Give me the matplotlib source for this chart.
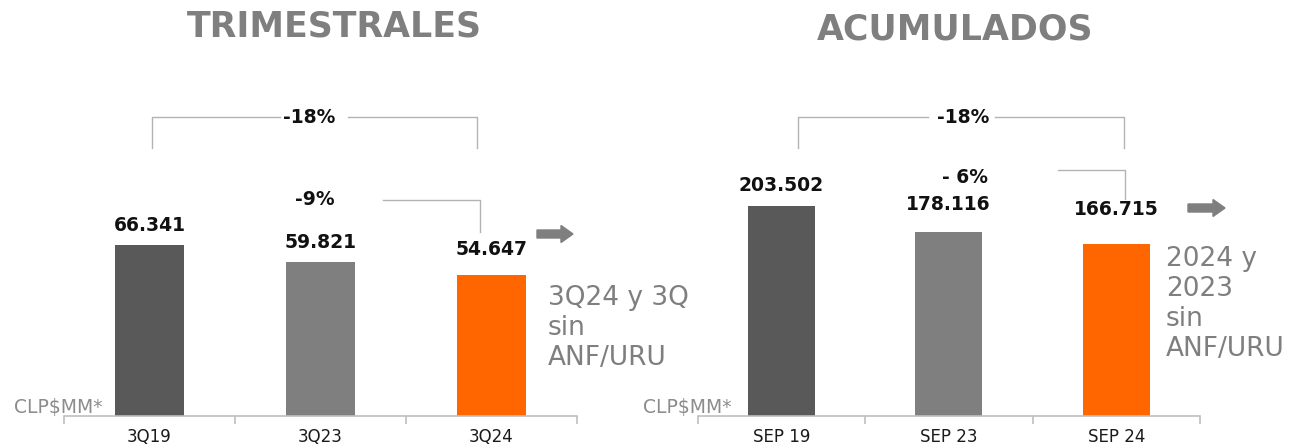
import matplotlib
matplotlib.use("Agg")
import matplotlib.pyplot as plt
import matplotlib.patches as mpatches
from matplotlib.transforms import Bbox, TransformedBbox, blended_transform_factory

# data
q_labels = ["3Q19", "3Q23", "3Q24"]
q_values = [66.341, 59.821, 54.647]
q_text = ["66.341", "59.821", "54.647"]

a_labels = ["SEP 19", "SEP 23", "SEP 24"]
a_values = [203.502, 178.116, 166.715]
a_text = ["203.502", "178.116", "166.715"]

colors = ["#595959", "#7f7f7f", "#ff6600"]
GRAY_LINE = "#b3b3b3"

fig = plt.figure(figsize=(12.92, 4.46), dpi=100)
px = fig.dpi_scale_trans  # 1 unit = 100 px


def P(x, y):
    # pixel (from top-left) -> inches for dpi_scale_trans
    return x / 100.0, (446 - y) / 100.0


def panel(rect, labels, values, texts, ymax, offsets):
    ax = fig.add_axes(rect)
    xs = range(len(values))
    ax.bar(xs, values, width=0.4, color=colors)
    ax.set_xlim(-0.5, 2.5)
    ax.set_ylim(0, ymax)
    for s in ["top", "right", "left"]:
        ax.spines[s].set_visible(False)
    ax.spines["bottom"].set_color("#bfbfbf")
    ax.spines["bottom"].set_linewidth(1.2)
    ax.set_yticks([])
    ax.set_xticks(list(xs))
    ax.set_xticklabels(labels, fontsize=12, color="#1a1a1a")
    ax.tick_params(axis="x", which="major", length=0, pad=9)
    ax.set_xticks([-0.5, 0.5, 1.5, 2.5], minor=True)
    ax.tick_params(axis="x", which="minor", length=6, color="#bfbfbf", width=1.2)
    for x, v, t, off in zip(xs, values, texts, offsets):
        ax.annotate(t, (x, v), xytext=(0, off), textcoords="offset pixels",
                    ha="center", va="center", fontsize=13.5, fontweight="bold",
                    color="#111111")
    return ax


def bracket(ax, x0, x1, y, ydrop0, ydrop1, label, lx, ly, gap=None):
    tr = blended_transform_factory(ax.transData, ax.transAxes)
    kw = dict(color=GRAY_LINE, lw=1.0, transform=tr, clip_on=False)
    if gap:
        ax.plot([x0, x0, gap[0]], [ydrop0, y, y], **kw)
        ax.plot([gap[1], x1, x1], [y, y, ydrop1], **kw)
    else:
        ax.plot([x0, x1, x1], [y, y, ydrop1], **kw)
    ax.text(lx, ly, label, transform=tr, ha="center", va="center",
            fontsize=13.5, fontweight="bold", color="#111111")


axL = panel([64 / 1292, 30 / 446, 513 / 1292, 316 / 446], q_labels, q_values,
            q_text, 316 / 2.58, [19, 19, 26])
axR = panel([697.5 / 1292, 30 / 446, 502.5 / 1292, 316 / 446], a_labels, a_values,
            a_text, 316 / 1.033, [20, 28, 34])

# brackets
bracket(axL, 0.015, 1.915, 0.946, 0.848, 0.848, "-18%", 0.933, 0.946, gap=(0.763, 1.16))
bracket(axL, 1.365, 1.933, 0.684, None, 0.582, "-9%", 0.968, 0.684)
bracket(axR, 0.10, 2.046, 0.946, 0.848, 0.848, "-18%", 1.085, 0.946, gap=(0.876, 1.276))
bracket(axR, 1.652, 2.052, 0.778, None, 0.687, "- 6%", 1.097, 0.756)

# titles
fig.text(*P(334, 27), "TRIMESTRALES", transform=px, ha="center", va="center",
         fontsize=25, fontweight="black", color="#7f7f7f", family="DejaVu Sans")
fig.text(*P(955, 29), "ACUMULADOS", transform=px, ha="center", va="center",
         fontsize=25, fontweight="black", color="#7f7f7f", family="DejaVu Sans")

# units
for x in (14, 643):
    fig.text(*P(x, 408), "CLP$MM*", transform=px, ha="left", va="center",
             fontsize=13.5, color="#8c8c8c")

# arrows
for (x0, x1, yc) in [(537, 573, 234), (1188, 1225, 208)]:
    ax0, ay0 = P(x0, yc)
    fig.patches.append(mpatches.FancyArrow(
        ax0, ay0, (x1 - x0) / 100.0, 0, width=0.08, head_width=0.17,
        head_length=0.12, length_includes_head=True, color="#7f7f7f",
        transform=px, figure=fig))

# notes
note1 = fig.text(*P(548, 285), "3Q24 y 3Q23\nsin\nANF/URU", transform=px,
                 ha="left", va="top", fontsize=19, color="#7f7f7f", linespacing=1.2)
note1.set_clip_box(TransformedBbox(Bbox.from_extents(5.40, 0.0, 6.88, 4.46), px))
note1.set_clip_on(True)
fig.text(*P(1166, 246), "2024 y\n2023\nsin\nANF/URU", transform=px,
         ha="left", va="top", fontsize=19, color="#7f7f7f", linespacing=1.2)

fig.savefig("out.png", dpi=100)
